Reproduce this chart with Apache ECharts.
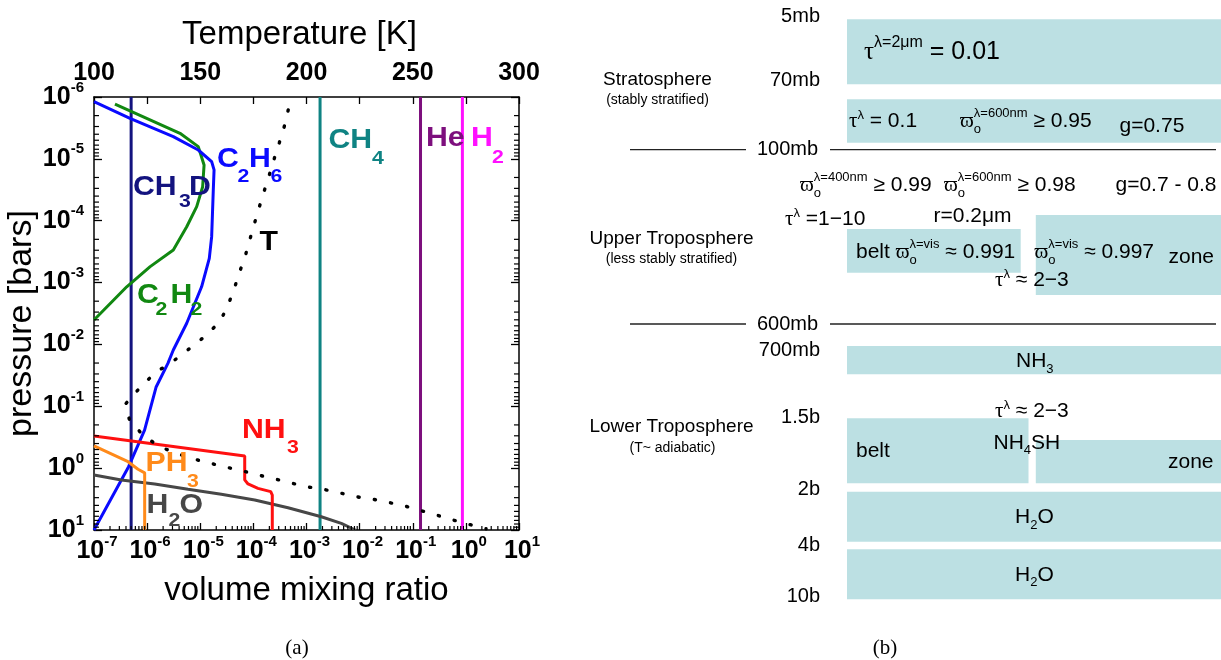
<!DOCTYPE html>
<html>
<head>
<meta charset="utf-8">
<script src="https://cdn.jsdelivr.net/npm/echarts@6/dist/echarts.min.js"></script>
<style>
  html, body { margin: 0; padding: 0; background: #fff; }
  #chart { width: 1221px; height: 660px; }
</style>
</head>
<body>
<div id="chart"></div>
<script>
const SANS = '"Liberation Sans", Arial, Helvetica, sans-serif';
const SERIF = '"Liberation Serif", "DejaVu Serif", "Times New Roman", serif';

// ---------- Panel (a): Jovian vertical profiles ----------
// Pressure range of the plot [bar]
const pTop = 1e-6;
const pBottom = 10;

// Well-mixed species (volume mixing ratio)
const ch3dVmr = 5e-7;
const ch4Vmr = 1.8e-3;
const heVmr = 0.14;
const h2Vmr = 0.86;

// [volume mixing ratio, pressure in bar]
const c2h6Profile = [
  [1.0e-7, 1.19e-6], [4.76e-7, 2.21e-6], [3.11e-6, 4.38e-6], [9.18e-6, 7.19e-6],
  [1.64e-5, 1.11e-5], [1.82e-5, 1.51e-5], [1.76e-5, 3.18e-5], [1.64e-5, 1.81e-4],
  [1.48e-5, 4.05e-4], [1.06e-5, 1.17e-3], [5.56e-6, 4.55e-3], [3.11e-6, 1.23e-2],
  [2.46e-6, 2.02e-2], [1.47e-6, 4.93e-2], [8.95e-7, 0.242], [4.48e-7, 0.948],
  [1.0e-7, 10]
];
const c2h2Profile = [
  [2.48e-7, 1.30e-6], [4.16e-6, 3.86e-6], [9.18e-6, 6.35e-6], [1.18e-5, 1.26e-5],
  [1.11e-5, 2.82e-5], [8.57e-6, 5.93e-5], [5.56e-6, 1.25e-4], [3.11e-6, 2.97e-4],
  [1.14e-6, 5.53e-4], [4.13e-7, 1.17e-3], [1.0e-7, 4.03e-3]
];
const nh3Profile = [
  [1.0e-7, 0.302], [6.87e-5, 0.636], [6.87e-5, 1.55], [7.93e-5, 1.80],
  [1.22e-4, 2.12], [2.12e-4, 2.40], [2.27e-4, 2.72], [2.27e-4, 10]
];
const ph3Profile = [
  [1.0e-7, 0.438], [4.37e-7, 0.787], [6.73e-7, 1.04], [8.99e-7, 1.19], [8.99e-7, 10]
];
const h2oProfile = [
  [1.0e-7, 1.29], [3.27e-7, 1.56], [1.39e-6, 1.80], [5.88e-6, 2.20], [2.49e-5, 2.65],
  [1.06e-4, 3.27], [4.49e-4, 4.36], [1.90e-3, 6.10], [4.52e-3, 7.80], [8.3e-3, 10]
];

// [temperature K, pressure bar]
const temperatureProfile = [
  [191.4, 1.62e-6], [189.6, 2.95e-6], [187.2, 5.50e-6], [184.7, 1.02e-5], [182.5, 1.82e-5],
  [180.0, 3.39e-5], [177.6, 6.31e-5], [175.3, 1.17e-4], [173.3, 2.04e-4], [171.1, 3.80e-4],
  [168.4, 6.92e-4], [165.9, 1.29e-3], [162.9, 2.40e-3], [159.3, 4.27e-3], [152.2, 7.41e-3],
  [145.2, 1.15e-2], [136.4, 1.97e-2], [129.0, 2.82e-2], [121.6, 5.01e-2], [114.9, 9.12e-2],
  [116.6, 0.162], [123.3, 0.302], [131.4, 0.457], [138.7, 0.575], [146.6, 0.708],
  [161.5, 0.955], [169.6, 1.10], [177.2, 1.29], [184.7, 1.48], [199.9, 2.00],
  [207.8, 2.19], [215.6, 2.51], [222.7, 2.88], [230.8, 3.16], [238.1, 3.55],
  [246.0, 4.07], [254.2, 4.90], [261.3, 5.75], [269.1, 6.92], [276.6, 8.13], [284.5, 9.55]
];

// Temperature axis range / tick step
const tempMin = 100, tempMax = 300, tempStep = 25;

// ---------- Panel (b): schematic cloud layers ----------
// Extents in the schematic's own units (x across the column, y down the column)
const bandLeft   = [267, 267, 267, 455.8, 267, 267, 455.8, 267, 267];
const bandRight  = [641, 641, 440.7, 641, 641, 448.5, 641, 641, 641];
const bandTop    = [19.3, 99.3, 229, 215, 346, 418.3, 440, 491.7, 549.3];
const bandBottom = [84.3, 142.7, 272.7, 295, 374.3, 483.3, 483.3, 541.7, 599.3];
const boundaryLevels = [149.7, 324];

const COLORS = {
  ch3d: '#13137f', c2h6: '#0a0aff', c2h2: '#118811', ch4: '#0f8383',
  he: '#7d0f7d', h2: '#ff10ff', nh3: '#ff1010', ph3: '#ff8a1a', h2o: '#474747',
  band: '#bce0e3'
};

// log-axis minor tick positions (2..9 x 10^n)
const minorTicks = [];
for (let e = -7; e <= 0; e++) for (let m = 2; m <= 9; m++) minorTicks.push([m * Math.pow(10, e), pBottom, 0]);
for (let e = -6; e <= 0; e++) for (let m = 2; m <= 9; m++) minorTicks.push([1e-7, m * Math.pow(10, e), 1]);

const chart = echarts.init(document.getElementById('chart'));

// ---------- text helpers ----------
const measureCtx = document.createElement('canvas').getContext('2d');
function textWidth(t, font) { measureCtx.font = font; return measureCtx.measureText(t).width; }
function txt(text, x, cy, font, color, align, scaleX) {
  return {
    type: 'text', x: x, y: cy, z: 100, silent: true, scaleX: scaleX || 1,
    style: {
      text: text, x: 0, y: 0, font: font, fill: color || '#000',
      textAlign: align || 'left', align: align || 'left',
      textVerticalAlign: 'middle', verticalAlign: 'middle'
    }
  };
}
// Horizontal formula with Greek letters, superscripts and subscripts
function formula(x0, cy, size, parts, color) {
  const small = Math.round(size * 0.62);
  const out = [];
  let x = x0;
  parts.forEach(p => {
    if (typeof p === 'string') {
      const f = size + 'px ' + SANS;
      out.push(txt(p, x, cy, f, color)); x += textWidth(p, f);
    } else if (p.g) {
      const f = size + 'px ' + SERIF;
      out.push(txt(p.g, x, cy, f, color)); x += textWidth(p.g, f);
    } else {
      const f = small + 'px ' + SANS;
      let w = 0;
      if (p.sup) {
        const dy = p.sup.length === 1 ? -0.28 * size : -0.4 * size;
        out.push(txt(p.sup, x, cy + dy, f, color)); w = Math.max(w, textWidth(p.sup, f));
      }
      if (p.sub) {
        out.push(txt(p.sub, x, cy + 0.36 * size, f, color)); w = Math.max(w, textWidth(p.sub, f));
      }
      x += w;
    }
  });
  return out;
}
// Species labels in panel (a): [text, left, centreY, fontSize]
function chemLabel(color, parts) {
  return parts.map(p => txt(p[0], p[1], p[2], 'bold ' + p[3] + 'px ' + SANS, color, 'left', 1.12));
}

const graphics = [].concat(
  chemLabel(COLORS.ch3d, [['CH', 133, 187.5, 27], ['3', 179, 202, 19], ['D', 189, 187.5, 27]]),
  chemLabel(COLORS.c2h6, [['C', 217, 159.7, 27], ['2', 237.5, 177, 19], ['H', 249, 159.7, 27], ['6', 270.5, 177, 19]]),
  chemLabel(COLORS.ch4, [['CH', 328.5, 140.5, 27], ['4', 372, 159, 19]]),
  chemLabel(COLORS.he, [['He', 426, 139, 27]]),
  chemLabel(COLORS.h2, [['H', 471, 139, 27], ['2', 492, 158, 19]]),
  chemLabel('#000', [['T', 259.5, 242.5, 27]]),
  chemLabel(COLORS.c2h2, [['C', 137, 295.8, 27], ['2', 155.5, 310, 19], ['H', 170.5, 295.8, 27], ['2', 190.5, 310, 19]]),
  chemLabel(COLORS.nh3, [['NH', 242, 430.8, 27], ['3', 287, 448, 19]]),
  chemLabel(COLORS.ph3, [['PH', 145.5, 464, 27], ['3', 187, 482, 19]]),
  chemLabel(COLORS.h2o, [['H', 146.5, 505.8, 27], ['2', 168.5, 521, 19], ['O', 179.5, 505.8, 27]]),

  // panel (b) pressure levels
  [['5mb', 16], ['70mb', 80], ['700mb', 350], ['1.5b', 417], ['2b', 489.5], ['4b', 545.5], ['10b', 596.5]]
    .map(l => txt(l[0], 820, l[1], '20px ' + SANS, '#000', 'right')),
  txt('100mb', 787.5, 149.7, '20px ' + SANS, '#000', 'center'),
  txt('600mb', 787.5, 324, '20px ' + SANS, '#000', 'center'),

  // region names
  txt('Stratosphere', 657.5, 80, '19px ' + SANS, '#000', 'center'),
  txt('(stably stratified)', 657.5, 100, '14px ' + SANS, '#000', 'center'),
  txt('Upper Troposphere', 671.5, 238.5, '19px ' + SANS, '#000', 'center'),
  txt('(less stably stratified)', 671.5, 259, '14px ' + SANS, '#000', 'center'),
  txt('Lower Troposphere', 671.5, 427, '19px ' + SANS, '#000', 'center'),
  txt('(T~ adiabatic)', 672.5, 448.5, '14px ' + SANS, '#000', 'center'),

  // haze / cloud properties
  formula(864, 52.5, 25, [{ g: 'τ' }, { sup: 'λ=2μm' }, ' = 0.01']),
  formula(849, 121, 21, [{ g: 'τ' }, { sup: 'λ' }, ' = 0.1']),
  formula(960, 121.5, 21, [{ g: 'ϖ' }, { sup: 'λ=600nm', sub: 'o' }, ' ≥ 0.95']),
  txt('g=0.75', 1119.5, 126.7, '21px ' + SANS),
  formula(800, 185.7, 21, [{ g: 'ϖ' }, { sup: 'λ=400nm', sub: 'o' }, ' ≥ 0.99']),
  formula(944, 185.7, 21, [{ g: 'ϖ' }, { sup: 'λ=600nm', sub: 'o' }, ' ≥ 0.98']),
  txt('g=0.7 - 0.8', 1115.5, 185, '21px ' + SANS),
  formula(785, 219, 21, [{ g: 'τ' }, { sup: 'λ' }, ' =1−10']),
  txt('r=0.2μm', 933.5, 216.7, '21px ' + SANS),
  formula(856, 252.5, 21, ['belt ', { g: 'ϖ' }, { sup: 'λ=vis', sub: 'o' }, ' ≈ 0.991']),
  formula(1034.5, 252.5, 21, [{ g: 'ϖ' }, { sup: 'λ=vis', sub: 'o' }, ' ≈ 0.997']),
  txt('zone', 1168.5, 257, '21px ' + SANS),
  formula(995, 280, 21, [{ g: 'τ' }, { sup: 'λ' }, ' ≈ 2−3']),
  formula(1016, 361.7, 21, ['NH', { sub: '3' }]),
  formula(995, 411, 21, [{ g: 'τ' }, { sup: 'λ' }, ' ≈ 2−3']),
  formula(993.5, 443.3, 21, ['NH', { sub: '4' }, 'SH']),
  txt('belt', 856, 451.7, '21px ' + SANS),
  txt('zone', 1168, 462.5, '21px ' + SANS),
  formula(1015, 517.5, 21, ['H', { sub: '2' }, 'O']),
  formula(1015, 575, 21, ['H', { sub: '2' }, 'O']),

  // panel captions
  txt('(a)', 297, 648, '21px ' + SERIF, '#000', 'center'),
  txt('(b)', 885, 648, '21px ' + SERIF, '#000', 'center')
);

// ---------- axes ----------
const expOf = v => Math.round(Math.log10(v));
const tickLabelRich = {
  b: { fontFamily: SANS, fontWeight: 'bold', fontSize: 25, lineHeight: 34, color: '#000' },
  s: { fontFamily: SANS, fontWeight: 'bold', fontSize: 15, lineHeight: 18, verticalAlign: 'top', color: '#000' },
  sp: { fontFamily: SANS, fontWeight: 'bold', fontSize: 15, lineHeight: 18, width: 6, verticalAlign: 'top', color: 'rgba(0,0,0,0)' }
};
const axisLineStyle = { lineStyle: { color: '#000', width: 1.5 } };
const nameStyle = { fontFamily: SANS, fontSize: 33, color: '#000' };

function vline(name, v, color) {
  return {
    type: 'line', name: name, xAxisIndex: 0, yAxisIndex: 0,
    data: [[v, pTop], [v, pBottom]], symbol: 'none', silent: true,
    lineStyle: { color: color, width: 3 }, z: 2
  };
}
function profile(name, data, color) {
  return {
    type: 'line', name: name, xAxisIndex: 0, yAxisIndex: 0, data: data,
    symbol: 'none', silent: true, lineStyle: { color: color, width: 3 }, z: 3
  };
}

const option = {
  animation: false,
  backgroundColor: '#fff',
  grid: [
    { left: 94, top: 97, width: 425, height: 433 },
    { left: 580, top: 0, width: 641, height: 660 }
  ],
  xAxis: [
    {
      gridIndex: 0, type: 'log', logBase: 10, min: 1e-7, max: 10, splitNumber: 8, position: 'bottom',
      name: 'volume mixing ratio', nameLocation: 'middle', nameGap: 44, nameTextStyle: nameStyle,
      axisLine: axisLineStyle,
      axisTick: { inside: true, length: 7, lineStyle: { color: '#000', width: 1.3 } },
      splitLine: { show: false },
      axisLabel: {
        interval: 0, margin: 4,
        formatter: v => '{sp| }{b|10}{s|' + expOf(v) + '}',
        rich: tickLabelRich
      }
    },
    {
      gridIndex: 0, type: 'value', min: tempMin, max: tempMax, interval: tempStep, position: 'top',
      name: 'Temperature [K]', nameLocation: 'middle', nameGap: 46,
      nameTextStyle: Object.assign({}, nameStyle, { padding: [0, 14, 0, 0] }),
      axisLine: axisLineStyle,
      axisTick: { inside: true, length: 7, lineStyle: { color: '#000', width: 1.3 } },
      splitLine: { show: false },
      axisLabel: {
        margin: 11, fontFamily: SANS, fontWeight: 'bold', fontSize: 25, color: '#000',
        formatter: v => (v % 50 === 0 ? String(v) : '')
      }
    },
    { gridIndex: 1, type: 'value', min: 0, max: 641, show: false }
  ],
  yAxis: [
    {
      gridIndex: 0, type: 'log', logBase: 10, min: pTop, max: pBottom, splitNumber: 7, inverse: true,
      position: 'left', name: 'pressure [bars]', nameLocation: 'middle', nameGap: 45,
      nameTextStyle: Object.assign({}, nameStyle, { fontSize: 34, padding: [0, 20, 0, 0] }),
      axisLine: axisLineStyle,
      axisTick: { inside: true, length: 8, lineStyle: { color: '#000', width: 1.3 } },
      splitLine: { show: false },
      axisLabel: {
        interval: 0, margin: 10,
        formatter: v => '{b|10}{s|' + expOf(v) + '}',
        rich: tickLabelRich
      }
    },
    {
      gridIndex: 0, type: 'log', logBase: 10, min: pTop, max: pBottom, splitNumber: 7, inverse: true,
      position: 'right', axisLine: axisLineStyle,
      axisTick: { inside: true, length: 8, lineStyle: { color: '#000', width: 1.3 } },
      axisLabel: { show: false }, splitLine: { show: false }
    },
    { gridIndex: 1, type: 'value', min: 0, max: 660, inverse: true, show: false }
  ],
  graphic: { elements: graphics },
  series: [
    {
      type: 'custom', name: 'minor ticks', xAxisIndex: 0, yAxisIndex: 0, clip: false, silent: true, z: 4,
      data: minorTicks,
      renderItem: (params, api) => {
        const st = { stroke: '#000', lineWidth: 1.2 };
        const p = api.coord([api.value(0), api.value(1)]);
        if (api.value(2) === 0) {
          return { type: 'line', shape: { x1: p[0], y1: p[1], x2: p[0], y2: p[1] - 4 }, style: st };
        }
        const q = api.coord([pBottom, api.value(1)]);
        return {
          type: 'group', children: [
            { type: 'line', shape: { x1: p[0], y1: p[1], x2: p[0] + 5, y2: p[1] }, style: st },
            { type: 'line', shape: { x1: q[0], y1: q[1], x2: q[0] - 5, y2: q[1] }, style: st }
          ]
        };
      }
    },
    vline('CH3D', ch3dVmr, COLORS.ch3d),
    vline('CH4', ch4Vmr, COLORS.ch4),
    vline('He', heVmr, COLORS.he),
    vline('H2', h2Vmr, COLORS.h2),
    profile('C2H2', c2h2Profile, COLORS.c2h2),
    profile('C2H6', c2h6Profile, COLORS.c2h6),
    profile('H2O', h2oProfile, COLORS.h2o),
    profile('PH3', ph3Profile, COLORS.ph3),
    profile('NH3', nh3Profile, COLORS.nh3),
    {
      type: 'line', name: 'T', xAxisIndex: 1, yAxisIndex: 0, data: temperatureProfile,
      symbol: 'none', silent: true, z: 5,
      lineStyle: { color: '#000', width: 3.4, type: [1.2, 15.3], cap: 'round' }
    },
    {
      type: 'custom', name: 'cloud layers', xAxisIndex: 2, yAxisIndex: 2, silent: true, z: 1,
      data: bandLeft.map((l, i) => [l, bandRight[i], bandTop[i], bandBottom[i]]),
      encode: { x: [0, 1], y: [2, 3] },
      renderItem: (params, api) => {
        const a = api.coord([api.value(0), api.value(2)]);
        const b = api.coord([api.value(1), api.value(3)]);
        return {
          type: 'rect', shape: { x: a[0], y: a[1], width: b[0] - a[0], height: b[1] - a[1] },
          style: { fill: COLORS.band }
        };
      }
    },
    {
      type: 'custom', name: 'layer boundaries', xAxisIndex: 2, yAxisIndex: 2, silent: true, z: 1,
      data: boundaryLevels.map(y => [0, y]),
      encode: { x: 0, y: 1 },
      renderItem: (params, api) => {
        const st = { stroke: '#222', lineWidth: 1.3 };
        const a = api.coord([50, api.value(1)]);
        const b = api.coord([166, api.value(1)]);
        const c = api.coord([250, api.value(1)]);
        const d = api.coord([636, api.value(1)]);
        return {
          type: 'group', children: [
            { type: 'line', shape: { x1: a[0], y1: a[1], x2: b[0], y2: b[1] }, style: st },
            { type: 'line', shape: { x1: c[0], y1: c[1], x2: d[0], y2: d[1] }, style: st }
          ]
        };
      }
    }
  ]
};

chart.setOption(option);
</script>
</body>
</html>
